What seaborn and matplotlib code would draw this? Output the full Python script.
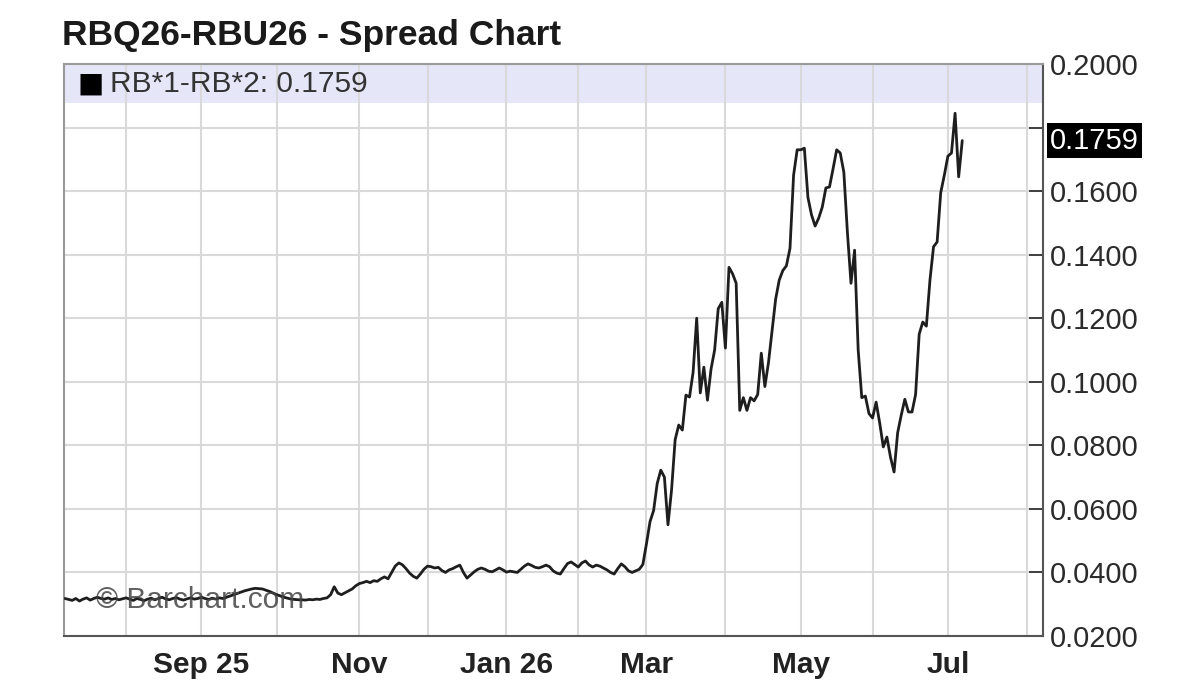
import numpy as np
import pandas as pd
import matplotlib
matplotlib.use("Agg")
import matplotlib.pyplot as plt
import matplotlib.ticker as mticker
from matplotlib.patches import Rectangle
import seaborn as sns

# ---------------- data ----------------
title = "RBQ26-RBU26 - Spread Chart"
legend_label = "RB*1-RB*2"
last_text = "0.1759"
watermark = "\u00a9 Barchart.com"
start_date = "2025-07-09"
holidays = ["2025-09-01", "2025-11-27", "2025-12-25", "2026-01-01", "2026-01-19",
            "2026-02-16", "2026-04-03", "2026-05-25", "2026-06-19", "2026-07-03"]

values = [
    0.0318, 0.0315, 0.0312, 0.0318, 0.0310, 0.0316, 0.0320, 0.0313, 0.0318, 0.0322,
    0.0318, 0.0316, 0.0320, 0.0315, 0.0318, 0.0314, 0.0317, 0.0320, 0.0316, 0.0312,
    0.0318, 0.0315, 0.0311, 0.0316, 0.0319, 0.0314, 0.0318, 0.0322, 0.0317, 0.0314,
    0.0318, 0.0321, 0.0316, 0.0313, 0.0317, 0.0320, 0.0316, 0.0318, 0.0322, 0.0318,
    0.0315, 0.0319, 0.0316, 0.0320, 0.0318, 0.0322, 0.0326, 0.0330, 0.0334, 0.0338,
    0.0342, 0.0345, 0.0348, 0.0350, 0.0349, 0.0348, 0.0344, 0.0340, 0.0335, 0.0330,
    0.0326, 0.0322, 0.0319, 0.0316, 0.0315, 0.0314, 0.0314, 0.0313, 0.0315, 0.0314,
    0.0316, 0.0315, 0.0318, 0.0320, 0.0330, 0.0355, 0.0335, 0.0330, 0.0336, 0.0342,
    0.0348, 0.0358, 0.0365, 0.0368, 0.0372, 0.0368, 0.0374, 0.0372, 0.0380, 0.0386,
    0.0380, 0.0400, 0.0420, 0.0430, 0.0424, 0.0412, 0.0398, 0.0388, 0.0382, 0.0395,
    0.0410, 0.0420, 0.0418, 0.0414, 0.0416, 0.0406, 0.0400, 0.0408, 0.0412, 0.0418,
    0.0423, 0.0400, 0.0382, 0.0392, 0.0402, 0.0410, 0.0414, 0.0410, 0.0404, 0.0402,
    0.0408, 0.0414, 0.0408, 0.0401, 0.0404, 0.0402, 0.0400, 0.0410, 0.0420, 0.0427,
    0.0422, 0.0416, 0.0414, 0.0418, 0.0423, 0.0418, 0.0405, 0.0398, 0.0395, 0.0412,
    0.0428, 0.0433, 0.0425, 0.0417, 0.0430, 0.0436, 0.0424, 0.0417, 0.0423, 0.0420,
    0.0414, 0.0408, 0.0400, 0.0395, 0.0412, 0.0427, 0.0418, 0.0405, 0.0400, 0.0405,
    0.0410, 0.0425, 0.0490, 0.0560, 0.0595, 0.0680, 0.0722, 0.0700, 0.0550, 0.0660,
    0.0818, 0.0864, 0.0848, 0.0958, 0.0952, 0.1030, 0.1200, 0.0965, 0.1046, 0.0942,
    0.1040, 0.1100, 0.1230, 0.1250, 0.1106, 0.1360, 0.1340, 0.1310, 0.0910, 0.0950,
    0.0910, 0.0950, 0.0940, 0.0960, 0.1090, 0.0985, 0.1060, 0.1160, 0.1260, 0.1320,
    0.1350, 0.1365, 0.1420, 0.1650, 0.1730, 0.1730, 0.1735, 0.1580, 0.1525, 0.1490,
    0.1515, 0.1550, 0.1610, 0.1613, 0.1670, 0.1730, 0.1720, 0.1660, 0.1470, 0.1310,
    0.1414, 0.1100, 0.0950, 0.0955, 0.0900, 0.0886, 0.0936, 0.0870, 0.0795, 0.0826,
    0.0763, 0.0716, 0.0840, 0.0895, 0.0945, 0.0905, 0.0905, 0.0960, 0.1150, 0.1188,
    0.1175, 0.1320, 0.1425, 0.1440, 0.1595, 0.1650, 0.1710, 0.1720, 0.1845, 0.1645,
    0.1759,
]

month_labels = {"2025-09": "Sep 25", "2025-11": "Nov", "2026-01": "Jan 26",
                "2026-03": "Mar", "2026-05": "May", "2026-07": "Jul"}
y_ticks = [0.02, 0.04, 0.06, 0.08, 0.10, 0.12, 0.14, 0.16, 0.18, 0.20]
y_tick_labels = ["0.0200", "0.0400", "0.0600", "0.0800", "0.1000",
                 "0.1200", "0.1400", "0.1600", "", "0.2000"]
watermark_level = 0.0312

# ---------------- calendar (trading-day axis) ----------------
bday = pd.offsets.CustomBusinessDay(holidays=holidays)
pad_days = 23
calendar = pd.date_range(start_date, periods=len(values) + pad_days, freq=bday)
df = pd.DataFrame({"pos": np.arange(len(values)), "value": values,
                   "date": calendar[:len(values)]})

cal = pd.DataFrame({"pos": np.arange(len(calendar)), "date": calendar})
cal["month"] = cal["date"].dt.strftime("%Y-%m")
month_starts = cal.groupby("month")["pos"].min()
month_starts = month_starts[month_starts > 0]
major_pos = [month_starts[m] for m in month_labels if m in month_starts.index]
major_lab = [month_labels[m] for m in month_labels if m in month_starts.index]
minor_pos = [p for m, p in month_starts.items() if m not in month_labels]

# ---------------- figure ----------------
sns.set_theme(style="white")
plt.rcParams["font.family"] = ["Liberation Sans", "DejaVu Sans"]

fig = plt.figure(figsize=(12, 7), dpi=100)
fig.patch.set_facecolor("white")
ax = fig.add_axes([64 / 1200, 1 - 636 / 700, (1043 - 64) / 1200, (636 - 64) / 700])
ax.set_facecolor("white")

sns.lineplot(data=df, x="pos", y="value", ax=ax, color="#1e1e1e", linewidth=2.0,
             zorder=3, legend=False)

ax.set_xlim(-0.3, len(values) - 1 + pad_days - 0.5)
ax.set_ylim(0.02, 0.20)

# grid
ax.xaxis.set_major_locator(mticker.FixedLocator(major_pos))
ax.xaxis.set_major_formatter(mticker.FixedFormatter(major_lab))
ax.xaxis.set_minor_locator(mticker.FixedLocator(minor_pos))
ax.yaxis.set_major_locator(mticker.FixedLocator(y_ticks))
ax.yaxis.set_major_formatter(mticker.FixedFormatter(y_tick_labels))
ax.set_axisbelow(True)
ax.grid(True, which="both", axis="x", color="#d9d9d9", linewidth=1.5)
ax.grid(True, which="major", axis="y", color="#d9d9d9", linewidth=1.5)

# lavender legend band
band_h = 39 / 572
ax.add_patch(Rectangle((0, 1 - band_h), 1, band_h, transform=ax.transAxes,
                       facecolor="#e6e6f9", edgecolor="none", zorder=0.2))

# axes/ticks
ax.yaxis.tick_right()
ax.tick_params(axis="y", which="major", direction="in", length=10, width=1.3,
               color="#333333", labelsize=21, labelcolor="#2b2b2b", pad=5,
               right=True, left=False)
ax.tick_params(axis="x", which="major", direction="out", length=4, width=1.5,
               color="#333333", labelsize=21.5, labelcolor="#222222", pad=7)
ax.tick_params(axis="x", which="minor", length=0)
for lab in ax.get_xticklabels():
    lab.set_fontweight("bold")
ax.set_xlabel("")
ax.set_ylabel("")

for side in ["left", "top"]:
    ax.spines[side].set_color("#9a9a9a")
    ax.spines[side].set_linewidth(1.5)
for side in ["bottom", "right"]:
    ax.spines[side].set_color("#555555")
    ax.spines[side].set_linewidth(1.5)

# title
fig.text(62 / 1200, 1 - 45 / 700, title, fontsize=25.5, fontweight="bold",
         color="#1a1a1a", ha="left", va="baseline")

# legend text in band
ax.text(0.0135, 1 - band_h / 2, "\u25a0", transform=ax.transAxes, fontsize=20,
        color="black", va="center", ha="left", family=["DejaVu Sans"])
ax.text(0.047, 1 - band_h / 2, f"{legend_label}: {last_text}", transform=ax.transAxes,
        fontsize=21.5, color="#333333", va="center", ha="left")

# last value label on right axis
ax.annotate(last_text, xy=(1.0, values[-1]), xycoords=("axes fraction", "data"),
            xytext=(7, 0), textcoords="offset pixels", fontsize=21, color="white",
            va="center", ha="left", annotation_clip=False,
            bbox=dict(boxstyle="square,pad=0.12", facecolor="black", edgecolor="none"))

# watermark
ax.text(32 / 979, watermark_level, watermark, transform=ax.get_yaxis_transform(),
        fontsize=21.5, color="#444444", alpha=0.85, va="center", ha="left", zorder=4)

fig.savefig("out.png", dpi=100, facecolor="white")
